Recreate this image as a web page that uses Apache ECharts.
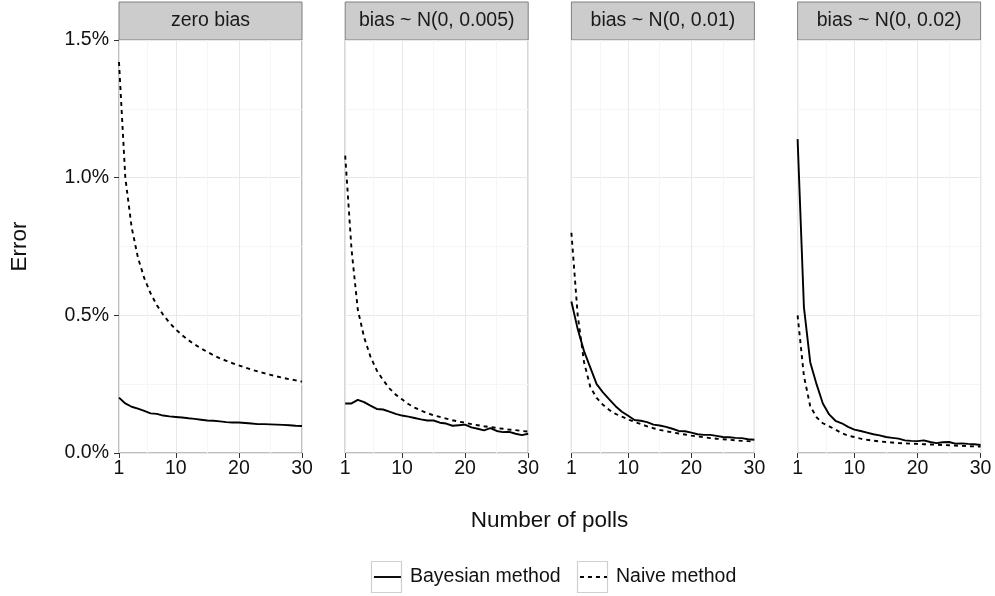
<!DOCTYPE html>
<html>
<head>
<meta charset="utf-8">
<script src="https://cdn.jsdelivr.net/npm/echarts@6/dist/echarts.min.js"></script>
<style>
html,body{margin:0;padding:0;background:#fff;}
#chart{width:995px;height:596px;}
</style>
</head>
<body>
<div id="chart"></div>
<script>
const polls = [1,2,3,4,5,6,7,8,9,10,11,12,13,14,15,16,17,18,19,20,21,22,23,24,25,26,27,28,29,30];
const panelTitles = ['zero bias', 'bias ~ N(0, 0.005)', 'bias ~ N(0, 0.01)', 'bias ~ N(0, 0.02)'];
const xTicks = [1, 10, 20, 30];
const xMinorTicks = [5.5, 15, 25];
const yTicks = [0, 0.5, 1.0, 1.5];
const seriesNames = ['Bayesian method', 'Naive method'];

// Error in percent
const bayesZero = [0.201,0.180,0.168,0.161,0.153,0.144,0.142,0.136,0.133,0.131,0.129,0.126,0.124,0.121,0.118,0.117,0.115,0.112,0.111,0.111,0.109,0.107,0.105,0.105,0.104,0.103,0.102,0.101,0.099,0.098];
const naiveZero = [1.42,1.00,0.82,0.71,0.635,0.58,0.537,0.502,0.473,0.449,0.428,0.41,0.394,0.38,0.367,0.355,0.344,0.335,0.326,0.318,0.31,0.303,0.296,0.29,0.284,0.278,0.273,0.268,0.264,0.259];
const bayes005 = [0.18,0.18,0.193,0.185,0.172,0.16,0.158,0.15,0.142,0.136,0.132,0.127,0.122,0.118,0.118,0.11,0.107,0.099,0.101,0.103,0.093,0.088,0.082,0.09,0.08,0.076,0.077,0.07,0.065,0.07];
const naive005 = [1.08,0.74,0.52,0.42,0.35,0.30,0.265,0.235,0.212,0.195,0.178,0.165,0.154,0.145,0.137,0.131,0.125,0.119,0.114,0.11,0.105,0.101,0.097,0.094,0.091,0.088,0.085,0.083,0.08,0.078];
const bayes01 = [0.55,0.45,0.37,0.31,0.25,0.22,0.195,0.17,0.15,0.135,0.12,0.117,0.112,0.103,0.1,0.095,0.088,0.08,0.079,0.074,0.068,0.066,0.066,0.062,0.058,0.057,0.055,0.054,0.05,0.048];
const naive01 = [0.80,0.50,0.33,0.24,0.2,0.175,0.156,0.142,0.132,0.122,0.113,0.105,0.097,0.09,0.084,0.079,0.075,0.071,0.067,0.063,0.06,0.057,0.054,0.052,0.05,0.048,0.046,0.044,0.043,0.041];
const bayes02 = [1.14,0.53,0.33,0.25,0.18,0.14,0.117,0.108,0.095,0.085,0.08,0.074,0.068,0.064,0.058,0.055,0.052,0.046,0.044,0.043,0.046,0.04,0.036,0.039,0.04,0.034,0.035,0.033,0.032,0.029];
const naive02 = [0.50,0.28,0.17,0.13,0.108,0.097,0.085,0.072,0.063,0.058,0.052,0.048,0.045,0.042,0.04,0.038,0.036,0.035,0.034,0.033,0.032,0.031,0.03,0.029,0.028,0.027,0.026,0.025,0.024,0.023];

const bayesSets = [bayesZero, bayes005, bayes01, bayes02];
const naiveSets = [naiveZero, naive005, naive01, naive02];

const FONT = 'Liberation Sans, Arial, Helvetica, sans-serif';
const PANEL_LEFT = 119, PANEL_STEP = 226.2, PANEL_W = 183, PANEL_TOP = 40, PANEL_H = 413;

const grids = [], xAxes = [], yAxes = [], series = [], graphics = [];
for (let i = 0; i < 4; i++) {
  const left = PANEL_LEFT + i * PANEL_STEP;
  grids.push({left: left, top: PANEL_TOP, width: PANEL_W, height: PANEL_H, show: true,
    borderColor: '#7f7f7f', borderWidth: 1, backgroundColor: 'transparent', containLabel: false});
  xAxes.push({
    type: 'value', gridIndex: i, min: 1, max: 30, position: 'bottom',
    axisLine: {show: false},
    axisTick: {show: true, customValues: xTicks, length: 5, lineStyle: {color: '#333', width: 1}},
    axisLabel: {show: true, customValues: xTicks, fontSize: 19.5, color: '#111', fontFamily: FONT, margin: 6},
    splitLine: {show: true, lineStyle: {color: '#e8e8e8', width: 1}}
  });
  xAxes.push({
    type: 'value', gridIndex: i, min: 1, max: 30, position: 'top',
    axisLine: {show: false},
    axisTick: {show: false, customValues: xMinorTicks},
    axisLabel: {show: false, customValues: xMinorTicks},
    splitLine: {show: true, lineStyle: {color: '#f6f6f6', width: 1}}
  });
  yAxes.push({
    type: 'value', gridIndex: i, min: yTicks[0], max: yTicks[yTicks.length - 1], interval: 0.5,
    name: i === 0 ? 'Error' : '', nameLocation: 'middle', nameRotate: 90, nameGap: 88,
    nameTextStyle: {fontSize: 22.5, color: '#111', fontFamily: FONT},
    axisLine: {show: false},
    axisTick: {show: i === 0, length: 5, lineStyle: {color: '#333', width: 1}},
    axisLabel: {show: i === 0, fontSize: 19.5, color: '#111', fontFamily: FONT, margin: 10,
      formatter: v => v.toFixed(1) + '%'},
    splitLine: {show: true, lineStyle: {color: '#e8e8e8', width: 1}},
    minorTick: {show: false, splitNumber: 2},
    minorSplitLine: {show: true, lineStyle: {color: '#f6f6f6', width: 1}}
  });
  series.push({
    name: seriesNames[0], type: 'line', xAxisIndex: 2 * i, yAxisIndex: i,
    data: polls.map((p, k) => [p, bayesSets[i][k]]),
    symbol: 'none', showSymbol: false, smooth: false,
    lineStyle: {color: '#000', width: 1.9, type: 'solid'}, itemStyle: {color: '#000'}
  });
  series.push({
    name: seriesNames[1], type: 'line', xAxisIndex: 2 * i, yAxisIndex: i,
    data: polls.map((p, k) => [p, naiveSets[i][k]]),
    symbol: 'none', showSymbol: false, smooth: false,
    lineStyle: {color: '#000', width: 1.9, type: [4, 4]}, itemStyle: {color: '#000'}
  });
  graphics.push({
    type: 'rect', shape: {x: left, y: 2, width: PANEL_W, height: 38},
    style: {fill: '#cccccc', stroke: '#7f7f7f', lineWidth: 1}, silent: true
  });
  graphics.push({
    type: 'text', x: left + PANEL_W / 2, y: 21,
    style: {text: panelTitles[i], fill: '#1a1a1a', font: '19.5px ' + FONT, textAlign: 'center', textVerticalAlign: 'middle'},
    silent: true
  });
}
graphics.push({
  type: 'text', x: 549.5, y: 521,
  style: {text: 'Number of polls', fill: '#111', font: '22.5px ' + FONT, textAlign: 'center', textVerticalAlign: 'middle'}
});
graphics.push({type: 'rect', shape: {x: 371.5, y: 561.5, width: 30, height: 31},
  style: {fill: 'none', stroke: '#d0d0d0', lineWidth: 1.2}});
graphics.push({type: 'rect', shape: {x: 577.5, y: 561.5, width: 30, height: 31},
  style: {fill: 'none', stroke: '#d0d0d0', lineWidth: 1.2}});

const legendBase = {itemWidth: 27, itemHeight: 20, itemGap: 10, top: 567, padding: 0, selectedMode: false,
  itemStyle: {opacity: 0, borderWidth: 0},
  lineStyle: {width: 1.9},
  textStyle: {fontSize: 19.5, color: '#111', fontFamily: FONT, padding: [2, 0, 0, 4]}};

const option = {
  animation: false,
  backgroundColor: '#ffffff',
  grid: grids,
  xAxis: xAxes,
  yAxis: yAxes,
  legend: [
    Object.assign({data: [seriesNames[0]], left: 373}, legendBase),
    Object.assign({data: [seriesNames[1]], left: 579}, legendBase)
  ],
  series: series,
  graphic: graphics
};
const chart = echarts.init(document.getElementById('chart'), null, {renderer: 'canvas'});
chart.setOption(option);
</script>
</body>
</html>
